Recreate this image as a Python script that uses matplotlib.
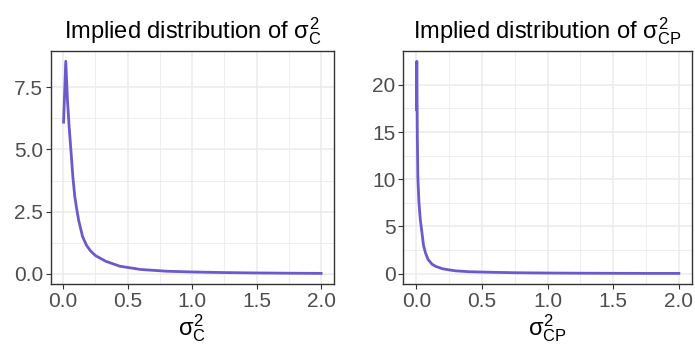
import matplotlib
matplotlib.use("Agg")
import matplotlib.pyplot as plt
import numpy as np

# implied density of sigma^2_C
x_c = [0.003, 0.02, 0.033, 0.045, 0.06, 0.075, 0.09, 0.105, 0.12, 0.15, 0.18,
       0.21, 0.25, 0.33, 0.44, 0.6, 0.8, 1.0, 1.25, 1.5, 1.75, 2.0]
y_c = [6.1, 8.55, 7.0, 6.0, 4.96, 3.9, 3.1, 2.6, 2.15, 1.5, 1.15,
       0.93, 0.73, 0.5, 0.3, 0.17, 0.1, 0.07, 0.045, 0.03, 0.02, 0.012]

# implied density of sigma^2_CP
x_cp = [0.001, 0.004, 0.008, 0.012, 0.02, 0.03, 0.04, 0.055, 0.07, 0.09, 0.12,
        0.15, 0.2, 0.25, 0.3, 0.4, 0.5, 0.75, 1.0, 1.25, 1.5, 1.75, 2.0]
y_cp = [17.4, 22.5, 14.5, 10.2, 7.6, 5.8, 4.7, 3.0, 2.2, 1.5, 1.0,
        0.76, 0.52, 0.40, 0.30, 0.21, 0.17, 0.10, 0.07, 0.05, 0.04, 0.03, 0.03]

xticks = [0.0, 0.5, 1.0, 1.5, 2.0]
yticks_c = [0.0, 2.5, 5.0, 7.5]
yticks_cp = [0, 5, 10, 15, 20]

plt.rcParams["font.family"] = ["Liberation Sans", "DejaVu Sans"]
plt.rcParams["mathtext.fontset"] = "custom"
plt.rcParams["mathtext.rm"] = "Liberation Sans"
plt.rcParams["mathtext.it"] = "Liberation Sans"

fig = plt.figure(figsize=(6.95, 3.5), dpi=100)
W, H = 695, 350

def panel(box, x, y, yticks, ylabels, sub):
    l, t, r, b = box
    ax = fig.add_axes([l / W, 1 - b / H, (r - l) / W, (b - t) / H])
    ax.plot(x, y, color="#6A5ACD", lw=2, zorder=3)
    xr = max(x) - min(x)
    yr = max(y) - min(y)
    ax.set_xlim(min(x) - 0.05 * xr, max(x) + 0.05 * xr)
    ax.set_ylim(min(y) - 0.05 * yr, max(y) + 0.05 * yr)
    ax.set_xticks(xticks)
    ax.set_xticklabels([f"{v:.1f}" for v in xticks])
    ax.set_yticks(yticks)
    ax.set_yticklabels(ylabels)
    ax.set_xticks([0.25, 0.75, 1.25, 1.75], minor=True)
    ys = np.array(yticks, dtype=float)
    ax.set_yticks((ys[:-1] + ys[1:]) / 2, minor=True)
    ax.grid(True, which="major", color="#EBEBEB", lw=1.1, zorder=0)
    ax.grid(True, which="minor", color="#EBEBEB", lw=0.6, zorder=0)
    ax.tick_params(which="minor", length=0)
    ax.tick_params(which="major", length=3.5, width=0.8, color="#333333",
                   labelcolor="#4D4D4D", labelsize=15, pad=2)
    for s in ax.spines.values():
        s.set_color("#333333")
        s.set_linewidth(1.0)
    ax.set_title("Implied distribution of $\\sigma^2_{\\mathrm{%s}}$" % sub,
                 fontsize=17, pad=9)
    ax.set_xlabel("$\\sigma^2_{\\mathrm{%s}}$" % sub, fontsize=17, labelpad=1)
    return ax

panel((50.7, 50.7, 334, 284), x_c, y_c, yticks_c,
      [f"{v:.1f}" for v in yticks_c], "C")
panel((403.3, 50.7, 692, 284), x_cp, y_cp, yticks_cp,
      [str(v) for v in yticks_cp], "CP")

fig.savefig("out.png", dpi=100)
